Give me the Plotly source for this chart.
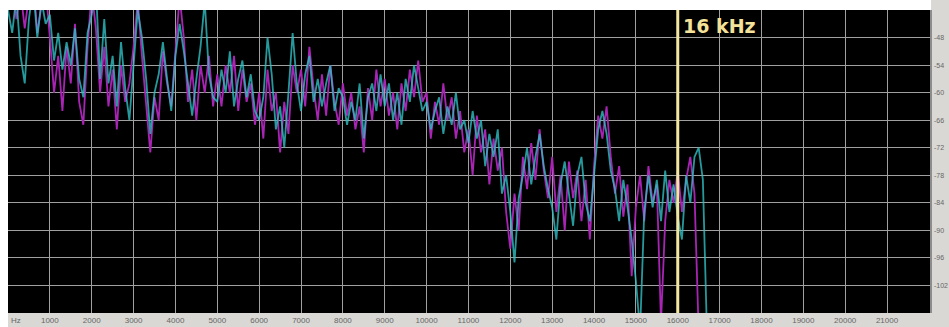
import plotly.graph_objects as go

freq_hz = list(range(0, 16900, 100))

magenta_db = [
    -40, -36, -44, -38, -46, -39, -35, -47, -41, -37,
    -48, -60, -52, -64, -50, -58, -45, -62, -67, -50,
    -38, -46, -60, -50, -63, -55, -68, -54, -62, -58,
    -50, -40, -52, -62, -73, -61, -66, -51, -58, -63,
    -50, -39, -48, -62, -55, -66, -54, -60, -52, -63,
    -56, -63, -54, -60, -52, -64, -55, -62, -58, -67,
    -60, -70, -55, -64, -60, -73, -62, -69, -54, -60,
    -55, -63, -50, -59, -66, -56, -65, -54, -62, -67,
    -58, -65, -60, -68, -63, -73, -59, -66, -55, -63,
    -57, -65, -60, -68, -58, -64, -55, -61, -53, -62,
    -60, -70, -62, -67, -58, -66, -61, -70, -64, -73,
    -68, -78, -65, -73, -68, -80, -70, -77, -72, -86,
    -94, -82, -90, -74, -81, -71, -79, -68, -77, -83,
    -74, -86, -78, -90, -75, -83, -77, -88, -79, -92,
    -76, -65, -70, -63, -74, -82, -76, -87, -80, -100,
    -85, -78, -88, -76, -84, -80, -110, -88, -79, -84,
    -77, -86, -79, -74, -82, -112, -114, -116, -118,
]

cyan_db = [
    -42, -47, -39, -52, -58, -44, -37, -48, -40, -45,
    -43, -53, -47, -55, -49, -54, -46, -57, -61, -47,
    -43, -37, -57, -44, -58, -52, -63, -49, -59, -66,
    -54, -42, -48, -57, -69, -60, -56, -49, -57, -64,
    -52, -45, -51, -58, -65, -57, -50, -40, -56, -61,
    -62, -55, -60, -51, -63, -57, -53, -61, -56, -64,
    -66, -61, -48, -56, -68, -63, -72, -60, -47, -58,
    -64, -56, -52, -62, -57, -63, -58, -54, -64, -59,
    -61, -67, -62, -66, -58, -70, -61, -58, -64, -56,
    -63, -58, -66, -60, -67, -57, -62, -54, -59, -64,
    -62, -68, -64, -61, -69, -63, -67, -60, -68, -66,
    -71, -64, -70, -66, -76, -69, -74, -68, -82, -78,
    -86, -97, -83, -78, -72, -80, -74, -69, -76, -81,
    -85, -92, -80, -75, -82, -89, -78, -74, -84, -88,
    -78, -68, -64, -69, -77, -81, -88, -79, -85, -92,
    -101, -112, -86, -78, -85, -79, -88, -77, -86, -80,
    -87, -92, -78, -84, -74, -72, -79, -113, -118,
]

x_tick_vals = [1000 * k for k in range(1, 22)]
x_tick_text = [str(v) for v in x_tick_vals]
y_tick_vals = [-48, -54, -60, -66, -72, -78, -84, -90, -96, -102]
y_tick_text = [str(v) for v in y_tick_vals]
marker_freq = 16000
marker_label = "16 kHz"
unit_label = "Hz"

fig = go.Figure()
fig.add_trace(go.Scatter(x=freq_hz, y=magenta_db, mode="lines",
                         line=dict(color="#a824b4", width=1.8), showlegend=False))
fig.add_trace(go.Scatter(x=freq_hz, y=cyan_db, mode="lines",
                         line=dict(color="#30c0c4", width=1.8), opacity=0.8,
                         showlegend=False))

# yellow marker line
fig.add_shape(type="line", xref="x", yref="paper", x0=marker_freq, x1=marker_freq,
              y0=0, y1=1, line=dict(color="#f2e6a0", width=3), layer="above")
fig.add_annotation(x=marker_freq, xref="x", y=1, yref="paper", text="<b>" + marker_label + "</b>",
                   showarrow=False, xanchor="left", yanchor="top", xshift=3, yshift=-3,
                   font=dict(family="DejaVu Sans", size=19, color="#f4e29a"))

# gray side panels
fig.add_shape(type="rect", xref="paper", yref="paper", x0=1.0, x1=1.03, y0=-0.06, y1=1.04,
              fillcolor="#d9d8d4", line=dict(width=0), layer="below")
fig.add_shape(type="rect", xref="paper", yref="paper", x0=0, x1=1.03, y0=-0.06, y1=0,
              fillcolor="#d9d8d4", line=dict(width=0), layer="below")
fig.add_shape(type="line", xref="paper", yref="paper", x0=1.0, x1=1.0, y0=0, y1=1,
              line=dict(color="#8c8c8c", width=2))
fig.add_annotation(x=0.0085, xref="paper", y=0, yref="paper", text=unit_label, showarrow=False,
                   xanchor="center", yanchor="top", yshift=-1,
                   font=dict(size=8, color="#666666"))

fig.update_layout(
    width=949, height=327,
    margin=dict(l=8, r=18, t=10, b=14),
    paper_bgcolor="#ffffff", plot_bgcolor="#000000",
    font=dict(family="Liberation Sans", size=8, color="#666666"),
    xaxis=dict(range=[0, 22050], tickvals=x_tick_vals, ticktext=x_tick_text,
               showgrid=True, gridcolor="#a0a0a0", gridwidth=1.2, zeroline=False,
               ticks="", ticklen=0, automargin=False, ticklabelstandoff=1,
               tickfont=dict(size=8, color="#666666")),
    yaxis=dict(range=[-108, -42], side="right", tickvals=y_tick_vals, ticktext=y_tick_text,
               showgrid=True, gridcolor="#a0a0a0", gridwidth=1.2, zeroline=False,
               ticks="", automargin=False, ticklabelstandoff=2,
               tickfont=dict(size=7, color="#666666")),
)
fig.write_html("out.html", post_script="document.body.style.margin='0';",
               config={"displayModeBar": False})
